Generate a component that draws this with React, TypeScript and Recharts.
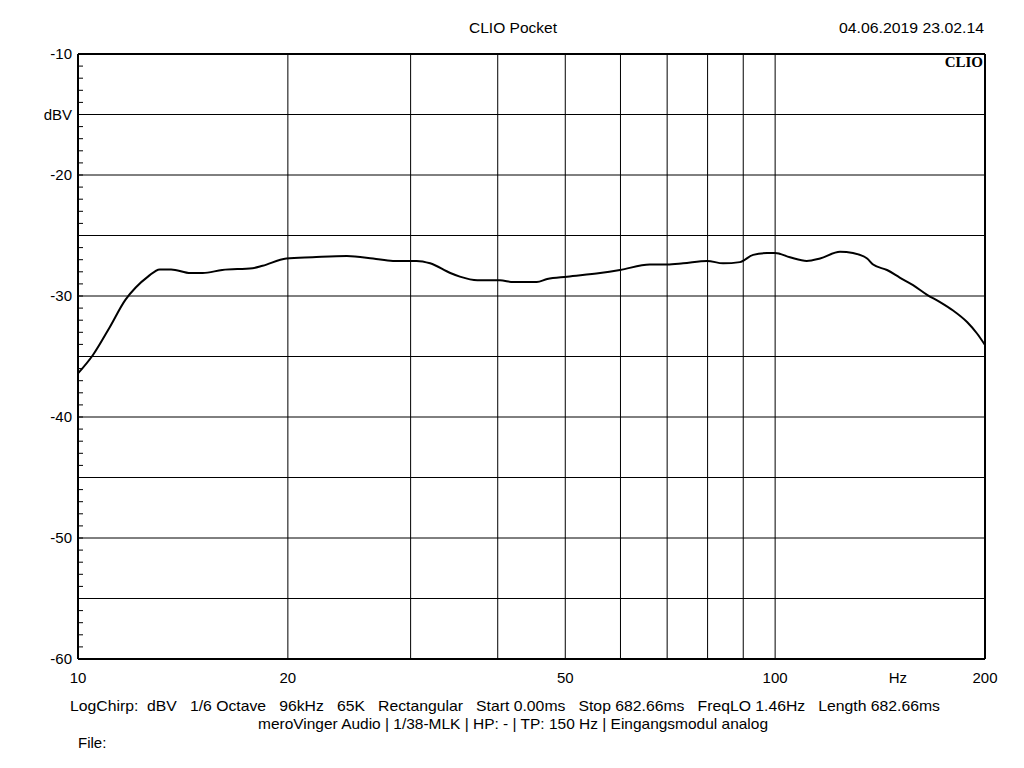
import React from 'react'
import {
  LineChart,
  Line,
  XAxis,
  YAxis,
  CartesianGrid,
  ReferenceLine,
} from 'recharts'

// frequency (Hz) and level (dBV)
const freqs = [
  10, 10.5, 11.1, 11.7, 12.1, 12.6, 13.1, 13.6, 14.5, 15.1, 16.1, 17.8, 18.4, 19.9,
  21.7, 24.3, 26.5, 28.3, 30.6, 32, 34.2, 35.3, 37.4, 40.3, 42.1, 45.5, 47.1, 50.3,
  56.1, 59.9, 66.1, 70, 73.8, 79.9, 84.2, 89, 93, 97.4, 100, 105, 111, 116, 123.9,
  129.3, 135.5, 138.2, 144.7, 151.1, 157.7, 165.2, 172.4, 180, 188.5, 194.8, 200,
]
const levels = [
  -36.4, -34.9, -32.6, -30.3, -29.3, -28.4, -27.8, -27.8, -28.1, -28.1, -27.85, -27.7,
  -27.5, -26.9, -26.8, -26.7, -26.9, -27.1, -27.1, -27.3, -28.1, -28.4, -28.7, -28.7,
  -28.85, -28.85, -28.6, -28.4, -28.1, -27.85, -27.4, -27.4, -27.3, -27.1, -27.3,
  -27.2, -26.6, -26.45, -26.45, -26.8, -27.1, -26.9, -26.35, -26.45, -26.9, -27.4,
  -27.85, -28.5, -29.1, -29.9, -30.5, -31.2, -32.15, -33.1, -34.05,
]

const xTicks = [10, 20, 50, 100, 150, 200]
const xTickLabels: Record<number, string> = { 10: '10', 20: '20', 50: '50', 100: '100', 150: 'Hz', 200: '200' }
const xGrid = [20, 30, 40, 50, 60, 70, 80, 90, 100]
const yGrid = [-60, -55, -50, -45, -40, -35, -30, -25, -20, -15, -10]
const yMinor = Array.from({ length: 51 }, (_, i) => -60 + i)
const yTickLabels: Record<number, string> = { '-10': '-10', '-15': 'dBV', '-20': '-20', '-30': '-30', '-40': '-40', '-50': '-50', '-60': '-60' }

const data = freqs.map((f, i) => ({ f, v: levels[i] }))

const W = 1024
const H = 768
const LEFT = 78
const RIGHT = 985
const TOP = 54
const BOTTOM = 659
const FONT = '"Liberation Sans", Arial, sans-serif'

const LeftTick = (props: any) => {
  const { y, payload } = props
  const label = yTickLabels[payload.value]
  return (
    <g>
      <line x1={LEFT} x2={LEFT + 5} y1={y} y2={y} stroke="#000" strokeWidth={1} />
      {label && (
        <text x={LEFT - 6} y={y} dy={5} textAnchor="end" fontSize={15} fontFamily={FONT} fill="#000">
          {label}
        </text>
      )}
    </g>
  )
}

const RightTick = (props: any) => {
  const { y } = props
  return <line x1={RIGHT - 4} x2={RIGHT} y1={y} y2={y} stroke="#000" strokeWidth={1} />
}

const BottomTick = (props: any) => {
  const { x, payload } = props
  return (
    <text x={x} y={BOTTOM + 24} textAnchor="middle" fontSize={15} fontFamily={FONT} fill="#000">
      {xTickLabels[payload.value]}
    </text>
  )
}

export default function App() {
  return (
    <div style={{ position: 'absolute', left: 0, top: 0, width: W, height: H, background: '#fff' }}>
      <LineChart
        width={W}
        height={H}
        data={data}
        margin={{ top: TOP, right: 0, left: 0, bottom: H - BOTTOM - 30 }}
      >
        <CartesianGrid
          yAxisId="l"
          stroke="#000"
          strokeWidth={1}
          verticalValues={xGrid}
          horizontalValues={yGrid}
        />
        <XAxis
          dataKey="f"
          type="number"
          scale="log"
          domain={[10, 200]}
          allowDataOverflow
          ticks={xTicks}
          interval={0}
          height={30}
          tick={<BottomTick />}
          tickLine={false}
          axisLine={{ stroke: '#000', strokeWidth: 2 }}
        />
        <YAxis
          yAxisId="l"
          orientation="left"
          type="number"
          domain={[-60, -10]}
          ticks={yMinor}
          interval={0}
          width={LEFT}
          tick={<LeftTick />}
          tickLine={false}
          axisLine={{ stroke: '#000', strokeWidth: 2 }}
        />
        <YAxis
          yAxisId="r"
          orientation="right"
          type="number"
          domain={[-60, -10]}
          ticks={yMinor}
          interval={0}
          width={W - RIGHT}
          tick={<RightTick />}
          tickLine={false}
          axisLine={{ stroke: '#000', strokeWidth: 2 }}
        />
        <ReferenceLine yAxisId="l" y={-10} stroke="#000" strokeWidth={2} />
        <Line
          yAxisId="l"
          type="monotone"
          dataKey="v"
          stroke="#000"
          strokeWidth={2}
          dot={false}
          isAnimationActive={false}
        />
      </LineChart>
      <svg
        width={W}
        height={H}
        style={{ position: 'absolute', left: 0, top: 0, pointerEvents: 'none' }}
        fontFamily={FONT}
        fontSize={15}
      >
        <text x={469} y={33} textLength={88} lengthAdjust="spacingAndGlyphs">CLIO Pocket</text>
        <text x={839} y={33} textLength={145} lengthAdjust="spacingAndGlyphs">04.06.2019 23.02.14</text>
        <text
          x={983}
          y={67}
          textAnchor="end"
          fontFamily='"Liberation Serif", "Times New Roman", serif'
          fontWeight="bold"
          fontSize={15}
        >
          CLIO
        </text>
        <text x={70} y={711} style={{ whiteSpace: 'pre' }} textLength={870} lengthAdjust="spacingAndGlyphs">
          {'LogChirp:  dBV   1/6 Octave   96kHz   65K   Rectangular   Start 0.00ms   Stop 682.66ms   FreqLO 1.46Hz   Length 682.66ms'}
        </text>
        <text x={258} y={729} style={{ whiteSpace: 'pre' }} textLength={510} lengthAdjust="spacingAndGlyphs">
          {'meroVinger Audio | 1/38-MLK | HP: - | TP: 150 Hz | Eingangsmodul analog'}
        </text>
        <text x={78} y={748}>File:</text>
      </svg>
    </div>
  )
}
